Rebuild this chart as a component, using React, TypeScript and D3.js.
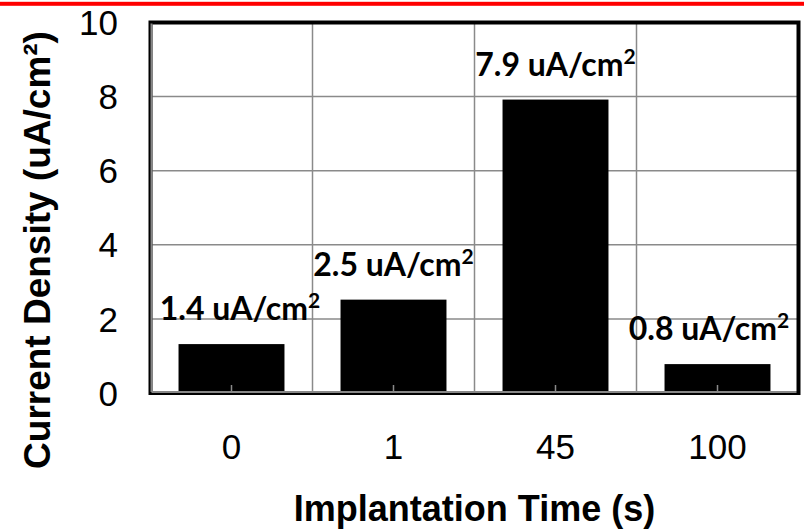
import React from "react";
import * as d3 from "d3";

const categories = ["0", "1", "45", "100"];
const values = [1.32, 2.52, 7.92, 0.78];
const labels = ["1.4 uA/cm", "2.5 uA/cm", "7.9 uA/cm", "0.8 uA/cm"];
const yTicks = [0, 2, 4, 6, 8, 10];

const W = 804;
const H = 529;
const ARIAL = "'Liberation Sans', Arial, sans-serif";
const CALIBRI = "Lato, 'Open Sans', sans-serif";

export default function App() {
  const left = 150.5;
  const right = 798.5;
  const top = 22.5;
  const bottom = 393;
  const x = d3
    .scaleBand<string>()
    .domain(categories)
    .range([left, right])
    .paddingInner(0.346)
    .paddingOuter(0.173);
  const y = d3.scaleLinear().domain([0, 10]).range([bottom, top]);
  const step = x.step();
  const labelW = 171;

  return (
    <svg
      width={W}
      height={H}
      style={{ position: "absolute", left: 0, top: 0, background: "#fff" }}
    >
      <rect x={0} y={0} width={W} height={H} fill="#fff" />
      <rect x={0} y={1.8} width={W} height={4} fill="#ff0000" />

      {/* horizontal gridlines */}
      {yTicks
        .filter((t) => t > 0 && t < 10)
        .map((t) => (
          <line
            key={"hg" + t}
            x1={left}
            x2={right}
            y1={y(t)}
            y2={y(t)}
            stroke="#8a8a8a"
            strokeWidth={1.5}
          />
        ))}
      {/* vertical gridlines between categories */}
      {categories.slice(1).map((c) => {
        const gx = (x(c) as number) - (x.paddingInner() * step) / 2;
        return (
          <line
            key={"vg" + c}
            x1={gx}
            x2={gx}
            y1={top}
            y2={bottom}
            stroke="#8a8a8a"
            strokeWidth={1.5}
          />
        );
      })}

      {/* bars */}
      {categories.map((c, i) => (
        <rect
          key={"b" + c}
          x={x(c)}
          y={y(values[i])}
          width={x.bandwidth()}
          height={y(0) - y(values[i])}
          fill="#000"
        />
      ))}

      {/* category tick marks */}
      {categories.map((c) => {
        const cx = (x(c) as number) + x.bandwidth() / 2;
        return (
          <line
            key={"t" + c}
            x1={cx}
            x2={cx}
            y1={bottom - 8}
            y2={bottom}
            stroke="#8a8a8a"
            strokeWidth={1.5}
          />
        );
      })}

      {/* frame */}
      <rect
        x={left}
        y={top}
        width={right - left}
        height={bottom - top}
        fill="none"
        stroke="#000"
        strokeWidth={4}
      />
      <line x1={left + 1} x2={left + 1} y1={top + 1} y2={bottom - 1} stroke="#888" strokeWidth={2} />
      <line x1={left + 1} x2={right - 2} y1={bottom - 1} y2={bottom - 1} stroke="#888" strokeWidth={2} />

      {/* value labels */}
      {categories.map((c, i) => {
        const cx = (x(c) as number) + x.bandwidth() / 2;
        const lx = Math.min(
          Math.max(cx, left + 4 + labelW / 2),
          right - 4 - labelW / 2
        );
        return (
          <text
            key={"l" + c}
            x={lx}
            y={y(values[i]) - 24}
            textAnchor="middle"
            fontFamily={CALIBRI}
            fontWeight="bold"
            fontSize={32}
            fill="#000"
          >
            {labels[i]}
            <tspan fontSize={21} dy={-12}>
              2
            </tspan>
          </text>
        );
      })}

      {/* y tick labels */}
      {yTicks.map((t) => (
        <text
          key={"yt" + t}
          x={118}
          y={y(t)}
          dy="0.36em"
          textAnchor="end"
          fontFamily={ARIAL}
          fontSize={35}
          fill="#000"
        >
          {t}
        </text>
      ))}

      {/* x tick labels */}
      {categories.map((c) => (
        <text
          key={"xt" + c}
          x={(x(c) as number) + x.bandwidth() / 2}
          y={459}
          textAnchor="middle"
          fontFamily={ARIAL}
          fontSize={35}
          fill="#000"
        >
          {c}
        </text>
      ))}

      {/* axis titles */}
      <text
        x={(left + right) / 2}
        y={521}
        textAnchor="middle"
        fontFamily={ARIAL}
        fontWeight="bold"
        fontSize={36}
        fill="#000"
      >
        Implantation Time (s)
      </text>
      <text
        transform={`translate(50, 250) rotate(-90)`}
        textAnchor="middle"
        fontFamily={ARIAL}
        fontWeight="bold"
        fontSize={37}
        fill="#000"
      >
        Current Density (uA/cm²)
      </text>
    </svg>
  );
}
